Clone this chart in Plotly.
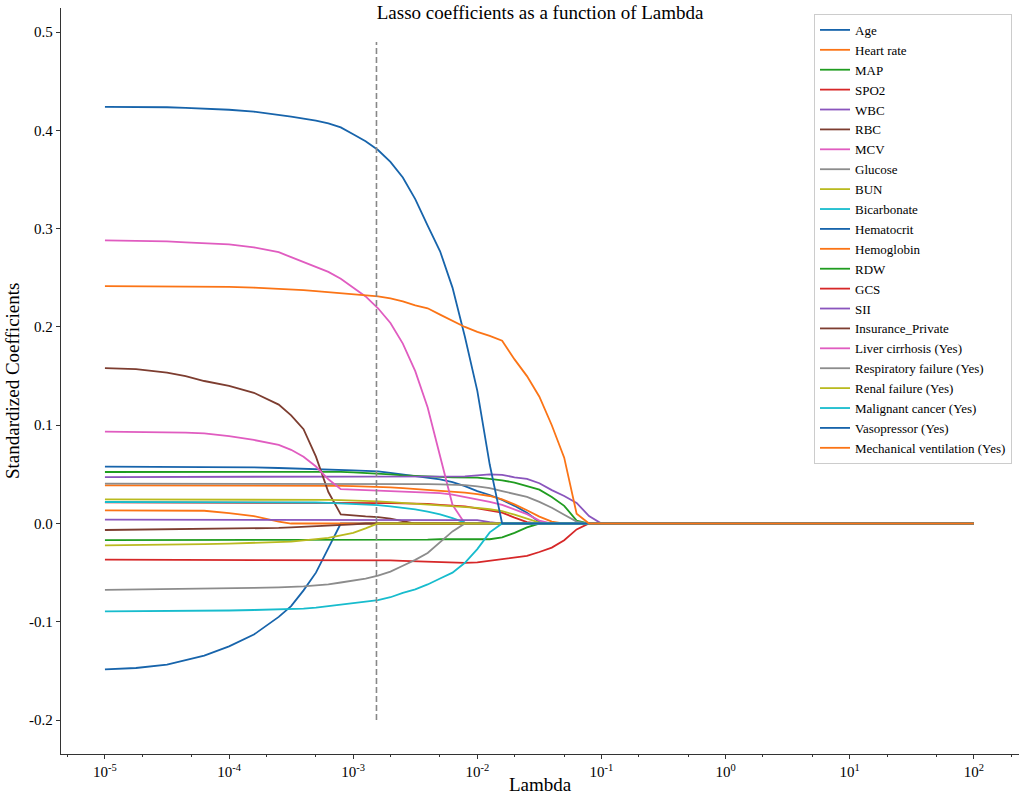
import plotly.graph_objects as go

# lambda grid (log10 of lambda)
log_lambda = [-5, -4.75, -4.5, -4.35, -4.2, -4, -3.8, -3.6, -3.5, -3.4, -3.3, -3.2, -3.1, -3.0,
              -2.9, -2.8, -2.7, -2.6, -2.5, -2.4, -2.3, -2.2, -2.1, -2.0, -1.9, -1.8, -1.7,
              -1.6, -1.5, -1.4, -1.3, -1.2, -1.1, -1.0, 2]

age = [0.0579, 0.0579, 0.0578, 0.0577, 0.0576, 0.0575, 0.0572, 0.0565, 0.0562, 0.0558, 0.0554,
       0.055, 0.0545, 0.054, 0.0535, 0.053, 0.0515, 0.050, 0.0485, 0.047, 0.045, 0.042, 0.038,
       0.033, 0.029, 0.024, 0.018, 0.011, 0.0015, 0, 0, 0, 0, 0, 0]
heart_rate = [0.0389, 0.0389, 0.0389, 0.0389, 0.0389, 0.0389, 0.0388, 0.0387, 0.0386, 0.0386,
              0.0385, 0.0385, 0.0382, 0.038, 0.0378, 0.0375, 0.0368, 0.036, 0.0352, 0.0345,
              0.0338, 0.033, 0.0315, 0.030, 0.028, 0.0245, 0.0195, 0.0135, 0.007, 0.002, 0, 0,
              0, 0, 0]
map_ = [0.0524, 0.0524, 0.0525, 0.0525, 0.0526, 0.0527, 0.0528, 0.0529, 0.053, 0.053, 0.053,
        0.0528, 0.0525, 0.052, 0.0515, 0.0505, 0.050, 0.049, 0.0483, 0.048, 0.0475, 0.047,
        0.047, 0.0467, 0.0455, 0.044, 0.0416, 0.038, 0.0345, 0.027, 0.018, 0.003, 0, 0, 0]
spo2 = [0.0215, 0.0215, 0.0215, 0.0215, 0.0215, 0.0215, 0.0215, 0.0215, 0.0215, 0.0215, 0.0215,
        0.0214, 0.0213, 0.0213, 0.0212, 0.021, 0.0208, 0.0205, 0.0203, 0.020, 0.019, 0.0185,
        0.0175, 0.0155, 0.0135, 0.011, 0.006, 0.0015, 0, 0, 0, 0, 0, 0, 0]
wbc = [0.0473, 0.0473, 0.0473, 0.0473, 0.0473, 0.0473, 0.0473, 0.0473, 0.0473, 0.0473, 0.0473,
       0.0473, 0.0473, 0.0473, 0.0473, 0.0473, 0.0473, 0.0473, 0.0473, 0.0473, 0.0473, 0.0475,
       0.048, 0.049, 0.050, 0.0495, 0.047, 0.0455, 0.041, 0.034, 0.028, 0.021, 0.0076, 0, 0]
rbc = [0.158, 0.157, 0.1535, 0.150, 0.145, 0.140, 0.133, 0.121, 0.110, 0.096, 0.068, 0.032,
       0.0093, 0.008, 0.0072, 0.0065, 0.005, 0.0025, 0, 0, 0, 0, 0, 0, 0, 0, 0, 0, 0, 0, 0, 0,
       0, 0, 0]
mcv = [0.288, 0.2878, 0.287, 0.286, 0.285, 0.284, 0.281, 0.276, 0.271, 0.266, 0.261, 0.256,
       0.249, 0.240, 0.231, 0.219, 0.204, 0.183, 0.155, 0.118, 0.067, 0.019, 0, 0, 0, 0, 0, 0,
       0, 0, 0, 0, 0, 0, 0]
glucose = [0.0406, 0.0406, 0.0406, 0.0406, 0.0406, 0.0406, 0.0406, 0.0406, 0.0406, 0.0406,
           0.0406, 0.0406, 0.0406, 0.0406, 0.0405, 0.0403, 0.0402, 0.040, 0.040, 0.040, 0.0398,
           0.0395, 0.039, 0.0378, 0.036, 0.033, 0.030, 0.027, 0.022, 0.016, 0.009, 0.002, 0, 0,
           0]
bun = [0.0246, 0.0246, 0.0246, 0.0246, 0.0246, 0.0246, 0.0246, 0.0246, 0.0246, 0.0244, 0.0242,
       0.024, 0.0238, 0.0235, 0.023, 0.0225, 0.0218, 0.021, 0.0203, 0.0195, 0.0187, 0.0178,
       0.017, 0.016, 0.0145, 0.0125, 0.009, 0.005, 0.001, 0, 0, 0, 0, 0, 0]
bicarbonate = [0.0219, 0.0219, 0.0219, 0.0219, 0.0219, 0.0219, 0.0219, 0.0219, 0.0218, 0.0216,
               0.0214, 0.021, 0.0205, 0.020, 0.0195, 0.0188, 0.0175, 0.016, 0.0144, 0.012,
               0.0094, 0.0055, 0.001, 0, 0, 0, 0, 0, 0, 0, 0, 0, 0, 0, 0]
hematocrit = [-0.1483, -0.147, -0.1435, -0.139, -0.1345, -0.125, -0.113, -0.095, -0.084,
              -0.068, -0.050, -0.025, 0, 0, 0, 0, 0, 0, 0, 0, 0, 0, 0, 0, 0, 0, 0, 0, 0, 0, 0,
              0, 0, 0, 0]
hemoglobin = [0.0134, 0.0133, 0.0132, 0.0131, 0.013, 0.0105, 0.0075, 0.002, 0, 0, 0, 0, 0, 0,
              0, 0, 0, 0, 0, 0, 0, 0, 0, 0, 0, 0, 0, 0, 0, 0, 0, 0, 0, 0, 0]
rdw = [-0.0168, -0.0168, -0.0168, -0.0168, -0.0168, -0.0168, -0.0168, -0.0168, -0.0168,
       -0.0168, -0.0168, -0.0168, -0.0168, -0.0168, -0.0168, -0.0168, -0.0168, -0.0168,
       -0.0165, -0.0163, -0.016, -0.016, -0.016, -0.016, -0.016, -0.014, -0.0095, -0.004, 0, 0,
       0, 0, 0, 0, 0]
gcs = [-0.0368, -0.0368, -0.0368, -0.0368, -0.0368, -0.0368, -0.0368, -0.0368, -0.0368,
       -0.0368, -0.0368, -0.0368, -0.0368, -0.0368, -0.037, -0.037, -0.0375, -0.038, -0.0385,
       -0.039, -0.0395, -0.040, -0.040, -0.0395, -0.038, -0.0365, -0.035, -0.033, -0.029,
       -0.0245, -0.017, -0.006, 0, 0, 0]
sii = [0.004, 0.004, 0.004, 0.004, 0.004, 0.004, 0.004, 0.004, 0.004, 0.004, 0.004, 0.004,
       0.004, 0.004, 0.004, 0.004, 0.004, 0.004, 0.004, 0.004, 0.004, 0.004, 0.004, 0.0035,
       0.0015, 0, 0, 0, 0, 0, 0, 0, 0, 0, 0]
insurance = [-0.0066, -0.0063, -0.006, -0.0058, -0.0057, -0.0055, -0.005, -0.0045, -0.004,
             -0.0035, -0.003, -0.0022, -0.0015, -0.0008, 0, 0, 0, 0, 0, 0, 0, 0, 0, 0, 0, 0,
             0, 0, 0, 0, 0, 0, 0, 0, 0]
liver = [0.0935, 0.0934, 0.093, 0.0925, 0.0918, 0.089, 0.085, 0.080, 0.075, 0.068, 0.058,
         0.045, 0.035, 0.0345, 0.034, 0.034, 0.0335, 0.033, 0.0325, 0.032, 0.031, 0.0295,
         0.027, 0.025, 0.022, 0.019, 0.014, 0.0095, 0.003, 0, 0, 0, 0, 0, 0]
resp = [-0.0676, -0.0673, -0.067, -0.0668, -0.0665, -0.066, -0.0655, -0.065, -0.0646, -0.064,
        -0.063, -0.062, -0.060, -0.058, -0.056, -0.053, -0.049, -0.043, -0.037, -0.030,
        -0.019, -0.008, 0, 0, 0, 0, 0, 0, 0, 0, 0, 0, 0, 0, 0]
renal = [-0.0222, -0.022, -0.0218, -0.0214, -0.021, -0.0205, -0.0198, -0.019, -0.0184,
         -0.0172, -0.016, -0.0145, -0.012, -0.0095, -0.005, 0, 0, 0, 0, 0, 0, 0, 0, 0, 0, 0,
         0, 0, 0, 0, 0, 0, 0, 0, 0]
malignant = [-0.0893, -0.0892, -0.089, -0.0889, -0.0888, -0.0885, -0.088, -0.0875, -0.087,
             -0.0865, -0.0855, -0.084, -0.0825, -0.081, -0.0795, -0.078, -0.075, -0.0705,
             -0.067, -0.062, -0.056, -0.050, -0.040, -0.026, -0.009, 0, 0, 0, 0, 0, 0, 0, 0,
             0, 0]
vasopressor = [0.424, 0.424, 0.4235, 0.4228, 0.422, 0.421, 0.419, 0.416, 0.414, 0.412, 0.410,
               0.407, 0.403, 0.396, 0.389, 0.380, 0.368, 0.352, 0.330, 0.303, 0.277, 0.240,
               0.190, 0.135, 0.060, 0, 0, 0, 0, 0, 0, 0, 0, 0, 0]
mech_vent = [0.2416, 0.2415, 0.2413, 0.2412, 0.241, 0.2407, 0.240, 0.239, 0.2385, 0.2375,
             0.2365, 0.2355, 0.2345, 0.233, 0.232, 0.231, 0.229, 0.226, 0.222, 0.219, 0.2125,
             0.206, 0.200, 0.195, 0.191, 0.186, 0.167, 0.150, 0.129, 0.100, 0.067, 0.010, 0, 0,
             0]

names = ['Age', 'Heart rate', 'MAP', 'SPO2', 'WBC', 'RBC', 'MCV', 'Glucose', 'BUN',
         'Bicarbonate', 'Hematocrit', 'Hemoglobin', 'RDW', 'GCS', 'SII', 'Insurance_Private',
         'Liver cirrhosis (Yes)', 'Respiratory failure (Yes)', 'Renal failure (Yes)',
         'Malignant cancer (Yes)', 'Vasopressor (Yes)', 'Mechanical ventilation (Yes)']
series = [age, heart_rate, map_, spo2, wbc, rbc, mcv, glucose, bun, bicarbonate, hematocrit,
          hemoglobin, rdw, gcs, sii, insurance, liver, resp, renal, malignant, vasopressor,
          mech_vent]

# chosen lambda (vertical dashed line)
best_lambda = 0.00154
vline_y = [-0.2, 0.49]

colors = ['#1764ab', '#fb7416', '#209c20', '#d62728', '#8a55bd', '#7d3d30',
          '#e05cc0', '#8c8c8c', '#b9ba1f', '#17bccd']

lambdas = [10 ** v for v in log_lambda]
font = 'Liberation Serif'

fig = go.Figure()
for i, (name, vals) in enumerate(zip(names, series)):
    fig.add_trace(go.Scatter(x=lambdas, y=vals, mode='lines', name=name,
                             line=dict(color=colors[i % 10], width=1.8)))

fig.add_trace(go.Scatter(x=[best_lambda, best_lambda], y=vline_y, mode='lines',
                         showlegend=False,
                         line=dict(color='#888888', width=1.6, dash='6px,3px')))

xticks = [1e-5, 1e-4, 1e-3, 1e-2, 1e-1, 1e0, 1e1, 1e2]
xticktext = ['10<sup>-5</sup>', '10<sup>-4</sup>', '10<sup>-3</sup>', '10<sup>-2</sup>',
             '10<sup>-1</sup>', '10<sup>0</sup>', '10<sup>1</sup>', '10<sup>2</sup>']
yticks = [-0.2, -0.1, 0.0, 0.1, 0.2, 0.3, 0.4, 0.5]
yticktext = ['-0.2', '-0.1', '0.0', '0.1', '0.2', '0.3', '0.4', '0.5']

fig.update_layout(
    width=1021, height=796,
    margin=dict(l=61, r=2, t=8, b=42),
    plot_bgcolor='white', paper_bgcolor='white',
    font=dict(family=font, color='black'),
    title=dict(text='Lasso coefficients as a function of Lambda', x=0.529, xanchor='center',
               y=0.985, yanchor='middle', font=dict(size=19, family=font)),
    xaxis=dict(type='log', range=[-5.354, 2.364], tickvals=xticks, ticktext=xticktext,
               showline=True, linecolor='#333333', linewidth=1.4, ticks='outside',
               ticklen=4, tickcolor='#333333', showgrid=False, zeroline=False,
               tickfont=dict(size=15, family=font),
               minor=dict(ticks='outside', ticklen=2, tickcolor='#333333', showgrid=False)),
    yaxis=dict(range=[-0.2345, 0.5245], tickvals=yticks, ticktext=yticktext,
               showline=True, linecolor='#333333', linewidth=1.4, ticks='outside',
               ticklen=4, tickcolor='#333333', showgrid=False, zeroline=False,
               tickfont=dict(size=15, family=font)),
    legend=dict(x=0.9927, y=0.992, xanchor='right', yanchor='top', bgcolor='white',
                bordercolor='#cccccc', borderwidth=1, font=dict(size=13, family=font),
                tracegroupgap=0),
    annotations=[
        dict(text='Lambda', x=0.5, y=0, xref='paper', yref='paper', xanchor='center',
             yanchor='top', yshift=-18, showarrow=False, font=dict(size=19, family=font)),
        dict(text='Standardized Coefficients', x=0, y=0.5, xref='paper', yref='paper',
             xanchor='center', yanchor='middle', xshift=-49, textangle=-90,
             showarrow=False, font=dict(size=19, family=font)),
    ],
)

# drop the default page margin so the figure sits at the window's top-left corner
fig.write_html('out.html', config={'displayModeBar': False},
               post_script="document.body.style.margin = '0px';")
